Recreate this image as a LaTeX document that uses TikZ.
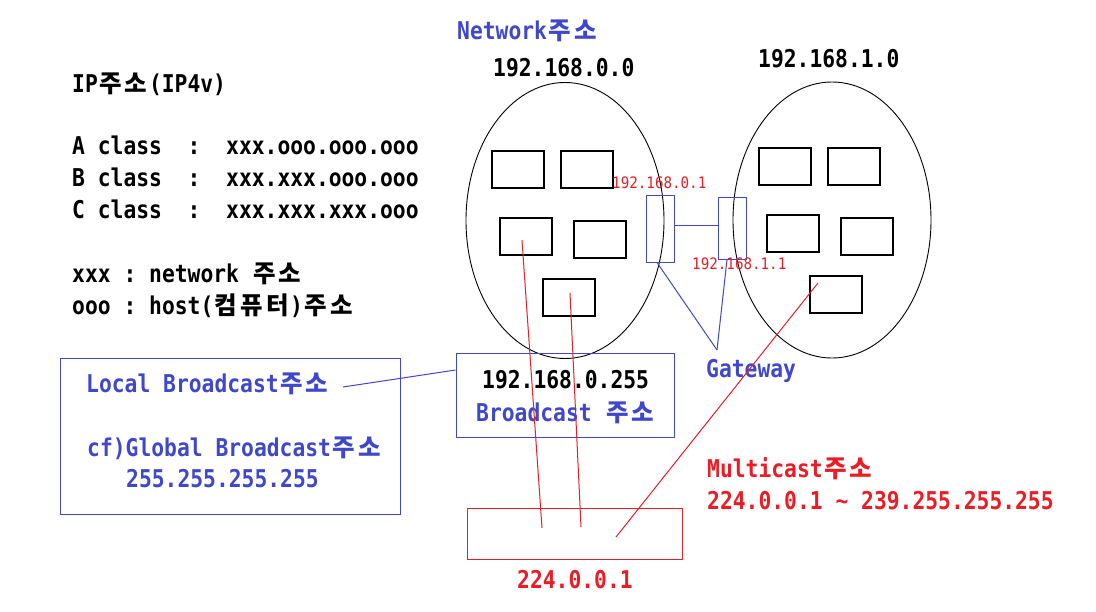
\documentclass[tikz,border=0pt]{standalone}
\usepackage{fontspec}
\usetikzlibrary{shapes.geometric}
\newfontfamily\monofnt[FakeStretch=0.87]{DejaVu Sans Mono}
\newfontfamily\smallfnt[FakeStretch=0.9]{DejaVu Sans Mono}
\newfontfamily\krfnt{Noto Sans CJK KR}
\newcommand\KK[1]{\makebox[25.6pt][c]{\krfnt\bfseries\fontsize{24.5}{24}\selectfont #1}}
\definecolor{pblue}{RGB}{63,72,204}
\definecolor{pred}{RGB}{237,28,36}
\tikzset{
  txt/.style={inner sep=0pt, anchor=base west, font=\monofnt\bfseries\fontsize{24.5}{26}\selectfont},
  smalltxt/.style={inner sep=0pt, anchor=base west, font=\smallfnt\fontsize{15.8}{17}\selectfont, text=pred},
  pc/.style={draw, line width=1.6pt, minimum width=52pt, minimum height=37pt, inner sep=0pt},
  net/.style={draw, ellipse, line width=0.9pt, inner sep=0pt, minimum width=198pt, minimum height=276pt},
  gw/.style={draw=pblue, line width=1pt, minimum width=28pt, inner sep=0pt},
  bluebox/.style={draw=pblue, line width=1pt, inner sep=0pt},
  redbox/.style={draw=pred, line width=1pt, inner sep=0pt},
  blueline/.style={draw=pblue, line width=1pt},
  redline/.style={draw=pred, line width=1pt},
}
\begin{document}
\begin{tikzpicture}[x=1pt,y=-1pt]
\useasboundingbox[fill=white] (0,0) rectangle (1096,611);
% networks
\node[net] (net0) at (565,220.5) {};
\node[net] (net1) at (832,220) {};
% computers
\node[pc] (b1) at (518,169.5) {};
\node[pc] (b2) at (587,169.5) {};
\node[pc] (b3) at (526,236.5) {};
\node[pc] (b4) at (600,239.5) {};
\node[pc] (b5) at (569,297.5) {};
\node[pc] (c1) at (785,166.5) {};
\node[pc] (c2) at (854,166.5) {};
\node[pc] (c3) at (793,233.5) {};
\node[pc] (c4) at (867,236.5) {};
\node[pc] (c5) at (836,294.5) {};
% gateways
\node[gw, minimum height=67pt] (gL) at (660,228.5) {};
\node[gw, minimum height=62pt] (gR) at (732,228) {};
\coordinate (gwy) at (0,225);
\draw[blueline] (gL.east |- gwy) -- (gR.west |- gwy);
\coordinate (gwm) at (717,350);
\draw[blueline] ([xshift=-3pt]gL.south) -- (gwm);
\draw[blueline] ([xshift=-5pt]gR.south) -- (gwm);
% boxes
\node[bluebox, minimum width=340pt, minimum height=156pt] (lb) at (230,436) {};
\node[bluebox, minimum width=218pt, minimum height=84pt] (bb) at (565,395) {};
\node[redbox, minimum width=215pt, minimum height=51pt] (rb) at (574.5,533.5) {};
% texts
\node[txt, text=pblue] (nettitle) at (457,39.5) {Network\KK{주}\KK{소}};
\node[txt] (n0) at (493,76) {192.168.0.0};
\node[txt] (n1) at (758,67) {192.168.1.0};
\node[txt] (iptitle) at (72,92) {IP\KK{주}\KK{소}(IP4v)};
\node[txt] (ca) at (72,154) {A~class~~:~~xxx.ooo.ooo.ooo};
\node[txt] (cb) at (72,186) {B~class~~:~~xxx.xxx.ooo.ooo};
\node[txt] (cc) at (72,218) {C~class~~:~~xxx.xxx.xxx.ooo};
\node[txt] (lx) at (72,282) {xxx~:~network~\KK{주}\KK{소}};
\node[txt] (lo) at (72,314) {ooo~:~host(\KK{컴}\KK{퓨}\KK{터})\KK{주}\KK{소}};
\node[txt, text=pblue] (lbt) at (86,392) {Local~Broadcast\KK{주}\KK{소}};
\node[txt, text=pblue] (gbt) at (87,456) {cf)Global~Broadcast\KK{주}\KK{소}};
\node[txt, text=pblue] (gba) at (126,487) {255.255.255.255};
\node[txt] (bbaddr) at (482,388) {192.168.0.255};
\node[txt, text=pblue] (bbtxt) at (476,421) {Broadcast~\KK{주}\KK{소}};
\node[txt, text=pblue] (gwt) at (706,377) {Gateway};
\node[txt, text=pred] (mct) at (707,477) {Multicast\KK{주}\KK{소}};
\node[txt, text=pred] (mcr) at (707,509) {224.0.0.1~\textasciitilde~239.255.255.255};
\node[txt, text=pred] (mca) at (517,588) {224.0.0.1};
\node[smalltxt] (g0a) at (612,188) {192.168.0.1};
\node[smalltxt] (g1a) at (692,269) {192.168.1.1};
% local broadcast pointer
\coordinate (lbl) at (343,387);
\draw[blueline] (lbl) -- ([yshift=25pt]bb.west);
% multicast lines
\coordinate (r1s) at (522,240);
\coordinate (r1e) at (542,528);
\coordinate (r2s) at (570,293);
\coordinate (r2e) at (581,527);
\coordinate (r3s) at (818,283);
\coordinate (r3e) at (616,537);
\draw[redline] (r1s) -- (r1e);
\draw[redline] (r2s) -- (r2e);
\draw[redline] (r3s) -- (r3e);
\end{tikzpicture}
\end{document}
